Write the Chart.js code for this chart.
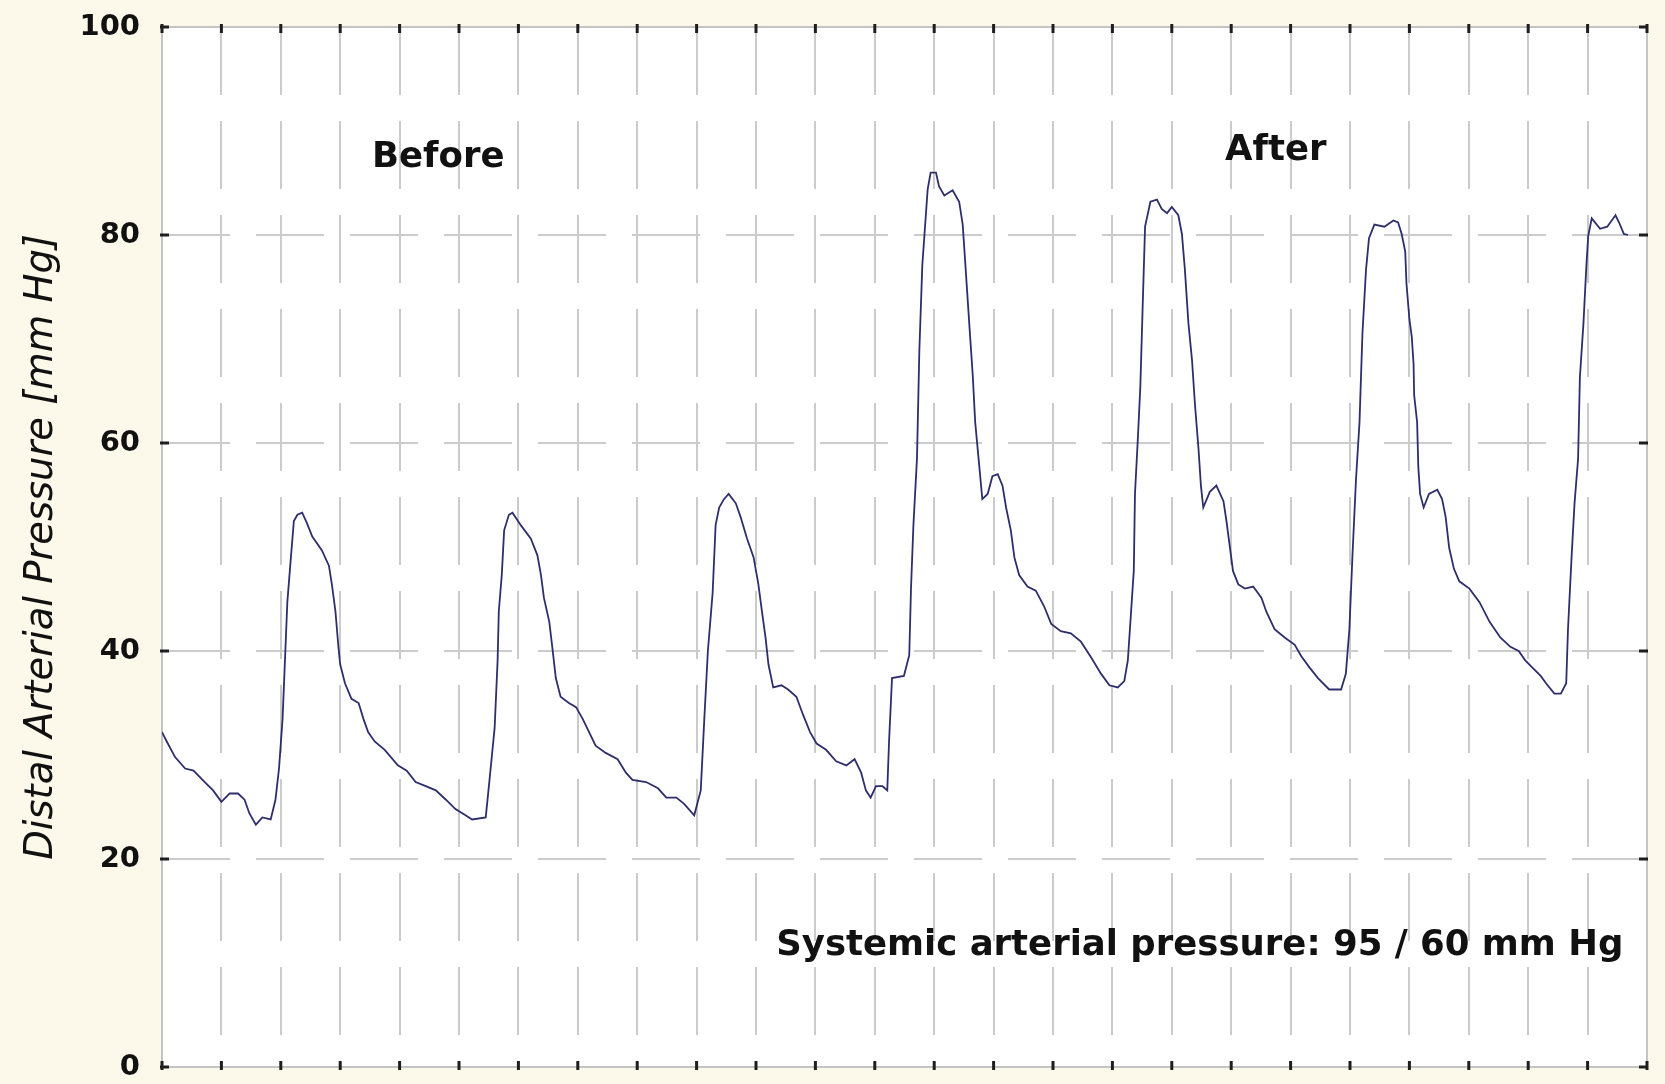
<!DOCTYPE html>
<html>
<head>
<meta charset="utf-8">
<title>Distal arterial pressure</title>
<script src="https://cdn.jsdelivr.net/npm/chart.js@4.4.1/dist/chart.umd.min.js"></script>
<style>
  html, body { margin: 0; padding: 0; background: #fcf8ea; }
  canvas { display: block; }
</style>
</head>
<body>
<canvas id="pressureChart" width="1665" height="1084"></canvas>
<script>
// time in grid divisions (0..25), one line per beat
const timeDiv = [
  0.00,0.08,0.22,0.39,0.53,0.72,0.86,1.00,1.14,1.28,1.39,1.47,1.58,1.69,1.83,1.91,1.97,2.03,2.07,2.11,2.17,2.22,2.28,2.36,2.44,2.53,2.69,2.81,2.86,2.92,2.97,3.00,3.08,3.19,3.31,3.39,3.47,3.58,3.75,3.97,
  4.12,4.27,4.44,4.61,4.78,4.94,5.11,5.22,5.45,5.51,5.60,5.65,5.67,5.72,5.76,5.84,5.90,6.04,6.21,6.32,6.38,6.43,6.52,6.57,6.63,6.71,6.85,6.97,7.08,7.19,7.30,7.47,7.67,7.81,7.92,8.15,
  8.35,8.49,8.66,8.79,8.96,9.07,9.13,9.19,9.27,9.32,9.38,9.46,9.54,9.66,9.74,9.85,9.96,10.04,10.10,10.16,10.21,10.29,10.43,10.54,10.68,10.79,10.91,11.02,11.18,11.35,11.52,11.66,11.77,11.85,11.93,12.02,12.13,12.21,12.24,12.29,
  12.49,12.58,12.61,12.65,12.71,12.75,12.80,12.89,12.94,13.03,13.08,13.17,13.31,13.42,13.48,13.53,13.59,13.65,13.69,13.76,13.81,13.90,13.98,14.07,14.15,14.21,14.29,14.35,14.43,14.57,14.71,14.85,14.97,15.13,15.30,15.47,15.64,15.81,15.95,16.09,16.20,16.26,16.31,16.36,16.38,16.43,16.47,16.51,
  16.55,16.64,16.75,16.83,16.92,17.00,17.11,17.17,17.22,17.28,17.34,17.39,17.45,17.49,17.53,17.64,17.75,17.87,17.92,17.98,18.03,18.12,18.23,18.37,18.51,18.59,18.73,18.90,19.07,19.18,19.32,19.46,19.65,19.85,19.93,19.99,20.04,20.10,20.16,20.21,20.27,20.32,20.41,20.58,
  20.73,20.81,20.87,20.93,20.95,21.00,21.04,21.07,21.08,21.13,21.15,21.18,21.24,21.33,21.47,21.55,21.61,21.67,21.75,21.84,22.01,22.18,22.35,22.53,22.70,22.84,22.95,23.07,23.21,23.30,23.44,23.55,23.64,23.67,23.73,23.78,23.84,23.87,23.93,23.98,24.01,24.07,24.21,24.33,24.47,24.53,24.61,24.68
];

// distal pressure, mm Hg
const pressure = [
  32.2,31.3,29.8,28.7,28.5,27.4,26.6,25.5,26.3,26.3,25.7,24.4,23.3,24.0,23.8,25.7,28.7,33.5,39.1,44.7,49.0,52.5,53.1,53.3,52.3,51.0,49.7,48.2,46.4,43.8,40.4,38.7,36.9,35.4,35.0,33.5,32.2,31.3,30.5,29.0,
  28.5,27.4,27.0,26.6,25.7,24.8,24.2,23.8,24.0,27.4,32.6,39.1,43.8,47.3,51.6,53.1,53.3,52.1,50.8,49.2,47.3,45.1,42.8,40.4,37.4,35.6,35.0,34.6,33.5,32.2,30.9,30.2,29.6,28.3,27.6,27.4,
  26.8,25.9,25.9,25.3,24.2,26.6,33.5,40.0,45.6,52.1,53.8,54.6,55.1,54.2,52.9,50.8,49.0,46.4,43.8,41.3,38.7,36.5,36.7,36.3,35.6,33.9,32.2,31.1,30.5,29.4,29.0,29.6,28.3,26.6,25.9,27.0,27.0,26.6,31.3,37.4,
  37.6,39.6,46.1,52.1,58.5,68.9,77.1,84.4,86.0,86.0,84.7,83.8,84.3,83.2,81.0,76.7,71.5,66.4,62.0,57.7,54.6,55.1,56.8,57.0,55.9,53.8,51.6,49.0,47.3,46.2,45.8,44.3,42.6,41.9,41.7,40.9,39.4,37.8,36.7,36.5,37.1,39.1,43.4,47.7,55.1,60.6,65.4,73.2,
  80.8,83.2,83.4,82.5,82.1,82.7,81.9,80.1,76.7,71.5,68.0,63.7,59.4,55.9,53.8,55.3,55.9,54.4,52.5,49.9,47.7,46.4,46.0,46.2,45.1,43.8,42.1,41.3,40.6,39.5,38.4,37.4,36.3,36.3,37.8,42.1,49.0,56.4,62.0,70.6,76.7,79.7,81.0,80.8,
  81.4,81.2,80.1,78.4,75.4,71.9,70.2,67.6,64.6,62.0,57.7,55.1,53.8,55.1,55.5,54.6,52.9,49.9,47.9,46.7,46.0,44.7,42.8,41.3,40.4,40.0,39.1,38.4,37.6,36.9,35.9,35.9,36.9,42.1,49.0,54.2,58.5,66.3,71.5,77.1,79.9,81.6,80.6,80.8,81.9,81.2,80.1,80.0
];

const yTicks = [0, 20, 40, 60, 80, 100];
const yTitle = 'Distal Arterial Pressure [mm Hg]';

// text notes placed in data units
const noteTexts = ['Before', 'After', 'Systemic arterial pressure: 95 / 60 mm Hg'];
const noteX = [4.65, 18.75, 10.34];
const noteY = [87.4, 88.1, 11.7];
const noteAlign = ['center', 'center', 'left'];

const FONT = '"DejaVu Sans", Verdana, sans-serif';
const GRID = '#cbcbcb';

const plotDecor = {
  id: 'plotDecor',
  beforeDraw(chart) {
    const { ctx, chartArea: a } = chart;
    ctx.save();
    ctx.fillStyle = '#fcf8ea';
    ctx.fillRect(0, 0, chart.width, chart.height);
    ctx.fillStyle = '#ffffff';
    ctx.fillRect(a.left, a.top, a.right - a.left, a.bottom - a.top);
    ctx.restore();
  },
  beforeDatasetsDraw(chart) {
    const { ctx, chartArea: a, scales: { x, y } } = chart;
    ctx.save();
    // solid frame over the dashed edge grid lines
    ctx.strokeStyle = '#c4c4c4';
    ctx.lineWidth = 2;
    ctx.strokeRect(a.left, a.top, a.right - a.left, a.bottom - a.top);
    // short inward tick marks on all four sides
    ctx.strokeStyle = '#1e1e1e';
    ctx.lineWidth = 3;
    ctx.beginPath();
    x.ticks.forEach(t => {
      const px = x.getPixelForValue(t.value);
      ctx.moveTo(px, a.top - 3); ctx.lineTo(px, a.top + 6);
      ctx.moveTo(px, a.bottom + 3); ctx.lineTo(px, a.bottom - 6);
    });
    y.ticks.forEach(t => {
      const py = y.getPixelForValue(t.value);
      ctx.moveTo(a.left - 2, py); ctx.lineTo(a.left + 7, py);
      ctx.moveTo(a.right + 1, py); ctx.lineTo(a.right - 8, py);
    });
    ctx.stroke();
    ctx.restore();
  },
  afterDraw(chart) {
    const { ctx, scales: { x, y } } = chart;
    ctx.save();
    ctx.fillStyle = '#111111';
    ctx.font = 'bold 35.5px ' + FONT;
    ctx.textBaseline = 'middle';
    noteTexts.forEach((txt, i) => {
      ctx.textAlign = noteAlign[i];
      ctx.fillText(txt, x.getPixelForValue(noteX[i]), y.getPixelForValue(noteY[i]));
    });
    ctx.restore();
  }
};

new Chart(document.getElementById('pressureChart'), {
  type: 'line',
  data: {
    datasets: [{
      data: timeDiv.map((t, i) => ({ x: t, y: pressure[i] })),
      borderColor: '#2e2e6c',
      borderWidth: 1.8,
      pointRadius: 0,
      tension: 0,
      fill: false
    }]
  },
  options: {
    responsive: false,
    animation: false,
    devicePixelRatio: 1,
    layout: { padding: { left: 0, top: 27, right: 18, bottom: 17 } },
    plugins: {
      legend: { display: false },
      tooltip: { enabled: false }
    },
    scales: {
      x: {
        type: 'linear',
        min: 0,
        max: 25,
        ticks: { display: false, stepSize: 1 },
        grid: { color: GRID, lineWidth: 2, drawTicks: false },
        border: { display: false, dash: [68, 26] },
        afterFit(s) { s.height = 0; s.paddingLeft = 0; s.paddingRight = 0; }
      },
      y: {
        min: 0,
        max: 100,
        afterBuildTicks(s) { s.ticks = yTicks.map(v => ({ value: v })); },
        ticks: {
          color: '#111111',
          padding: 22,
          font: { family: FONT, size: 29, weight: 'bold' }
        },
        grid: { color: GRID, lineWidth: 2, drawTicks: false },
        border: { display: false, dash: [68, 26] },
        title: {
          display: true,
          text: yTitle,
          color: '#111111',
          padding: { top: 19, bottom: 0 },
          font: { family: FONT, size: 38.5, style: 'italic', lineHeight: 1.2 }
        },
        afterFit(s) { s.width = 162; s.paddingTop = 0; s.paddingBottom = 0; }
      }
    }
  },
  plugins: [plotDecor]
});
</script>
</body>
</html>
